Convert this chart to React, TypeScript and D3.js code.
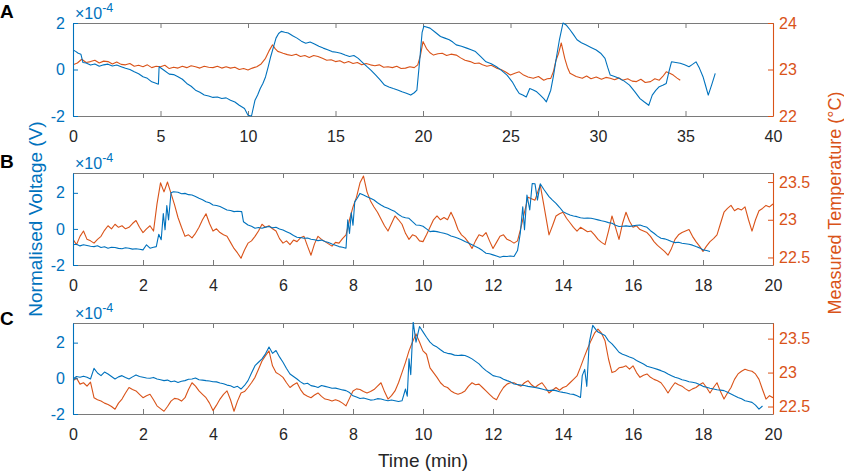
import { useEffect, useRef } from "react";
import * as d3 from "d3";

// MATLAB default colours
const BLUE = "#0072BD";
const ORANGE = "#D95319";
const AXIS_GREY = "#7a7a7a";
const TEXT = "#262626";
const FONT = "'Liberation Sans', Arial, Helvetica, sans-serif";

// ── tick labels ────────────────────────────────────────────────────────────
const X_TICKS_A = [0, 5, 10, 15, 20, 25, 30, 35, 40];
const X_TICKS_BC = [0, 2, 4, 6, 8, 10, 12, 14, 16, 18, 20];
const VOLT_TICKS = [-2, 0, 2];
const TEMP_TICKS_A = [22, 23, 24];
const TEMP_TICKS_BC = [22.5, 23, 23.5];

// ── panel A: [time (min), value] ───────────────────────────────────────────
// voltage in units of 1e-4 V
const A_VOLT: [number, number][] = [
  [0,0.84],[0.15,0.78],[0.3,0.7],[0.45,0.66],[0.57,0.3],[0.75,0.28],[1,0.19],[1.25,0.24],[1.5,0.14],[1.75,0.2],
  [2,0.23],[2.25,0.15],[2.5,0.19],[2.75,0.12],[3,0.05],[3.25,0.0],[3.5,-0.1],[3.75,-0.18],[4,-0.31],[4.25,-0.38],
  [4.5,-0.53],[4.7,-0.58],[4.88,-0.63],[4.92,0.12],[5.2,-0.03],[5.5,-0.2],[5.75,-0.22],[6,-0.31],[6.25,-0.42],[6.5,-0.6],
  [6.75,-0.72],[7,-0.89],[7.25,-0.98],[7.5,-1.1],[7.75,-1.14],[8,-1.2],[8.25,-1.18],[8.5,-1.25],[8.75,-1.22],[9,-1.32],
  [9.25,-1.4],[9.5,-1.54],[9.8,-1.68],[10,-1.97],[10.2,-2.0],[10.4,-1.32],[10.55,-1.1],[10.7,-0.82],[10.85,-0.6],[11,-0.32],
  [11.15,0.1],[11.3,0.56],[11.45,0.95],[11.6,1.35],[11.75,1.55],[11.9,1.64],[12.1,1.6],[12.3,1.57],[12.55,1.45],[12.8,1.35],
  [13.05,1.22],[13.3,1.13],[13.55,1.18],[13.8,1.1],[14.05,1.0],[14.3,0.92],[14.55,0.85],[14.8,0.77],[15.05,0.74],[15.3,0.7],
  [15.55,0.62],[15.8,0.56],[16.05,0.6],[16.3,0.48],[16.55,0.3],[16.8,0.12],[17.05,-0.05],[17.3,-0.24],[17.55,-0.45],[17.8,-0.67],
  [18.05,-0.75],[18.3,-0.82],[18.55,-0.88],[18.8,-0.96],[19.05,-1.02],[19.3,-1.1],[19.5,-1.0],[19.65,-0.89],[19.8,0.3],[19.95,1.6],
  [20.05,1.86],[20.4,1.78],[20.7,1.6],[21,1.42],[21.25,1.35],[21.5,1.28],[21.7,1.18],[21.9,1.06],[22.2,1.0],[22.5,0.92],
  [22.75,0.85],[23,0.77],[23.3,0.55],[23.6,0.33],[23.9,0.25],[24.2,0.12],[24.5,-0.05],[24.8,-0.24],[25.1,-0.53],[25.3,-0.8],
  [25.5,-1.03],[25.7,-1.1],[25.9,-1.18],[26.1,-0.82],[26.3,-0.88],[26.5,-0.96],[26.7,-1.1],[26.9,-1.25],[27.05,-1.39],[27.3,-0.89],
  [27.45,-0.3],[27.6,0.41],[27.8,1.3],[28,2.0],[28.2,1.9],[28.4,1.71],[28.6,1.5],[28.8,1.28],[29.05,1.15],[29.3,1.06],
  [29.6,0.95],[29.9,0.84],[30.15,0.7],[30.4,0.48],[30.55,0.1],[30.7,-0.24],[30.95,-0.3],[31.2,-0.38],[31.5,-0.5],[31.8,-0.67],
  [32.1,-0.95],[32.4,-1.25],[32.65,-1.4],[32.9,-1.54],[33.1,-1.1],[33.3,-0.9],[33.5,-0.74],[33.7,-0.68],[33.9,-0.6],[34.05,-0.1],
  [34.2,0.33],[34.45,0.3],[34.7,0.27],[34.95,0.2],[35.2,0.12],[35.4,0.22],[35.6,0.33],[35.8,0.05],[36,-0.31],[36.15,-0.7],
  [36.3,-1.1],[36.5,-0.65],[36.7,-0.17],
];
// temperature in °C
const A_TEMP: [number, number][] = [
  [0,23.1],[0.25,23.14],[0.5,23.22],[0.75,23.15],[1,23.17],[1.25,23.2],[1.5,23.14],[1.75,23.18],[2,23.17],[2.25,23.12],
  [2.5,23.16],[2.75,23.11],[3,23.1],[3.25,23.13],[3.5,23.07],[3.75,23.09],[4,23.06],[4.25,23.1],[4.5,23.04],[4.75,23.07],
  [5,23.06],[5.25,23.09],[5.5,23.02],[5.75,23.05],[6,23.03],[6.25,23.07],[6.5,23.04],[6.75,23.08],[7,23.06],[7.25,23.03],
  [7.5,23.07],[7.75,23.05],[8,23.04],[8.25,23.07],[8.5,23.03],[8.75,23.06],[9,23.03],[9.25,23.05],[9.5,23.0],[9.75,23.02],
  [10,22.99],[10.25,23.03],[10.5,23.06],[10.75,23.12],[11,23.24],[11.2,23.4],[11.4,23.53],[11.55,23.45],[11.7,23.39],[11.85,23.37],
  [12,23.35],[12.25,23.32],[12.5,23.3],[12.75,23.33],[13,23.28],[13.25,23.3],[13.5,23.26],[13.75,23.3],[14,23.28],[14.25,23.24],
  [14.5,23.2],[14.75,23.21],[15,23.17],[15.25,23.19],[15.5,23.14],[15.75,23.17],[16,23.13],[16.25,23.15],[16.5,23.1],[16.75,23.13],
  [17,23.1],[17.25,23.08],[17.5,23.1],[17.75,23.05],[18,23.06],[18.25,23.04],[18.5,23.07],[18.75,23.02],[19,23.03],[19.25,23.06],
  [19.5,23.04],[19.7,23.1],[19.85,23.3],[20,23.6],[20.2,23.45],[20.4,23.36],[20.6,23.31],[20.85,23.34],[21.1,23.35],[21.35,23.3],
  [21.6,23.33],[21.9,23.31],[22.15,23.25],[22.4,23.2],[22.7,23.17],[22.95,23.13],[23.2,23.14],[23.4,23.1],[23.65,23.07],[23.9,23.09],
  [24.2,23.03],[24.45,23.0],[24.7,22.95],[25,22.88],[25.25,22.92],[25.5,22.95],[25.75,22.88],[26,22.84],[26.3,22.81],[26.6,22.85],
  [26.9,22.77],[27.1,22.8],[27.3,22.81],[27.45,22.95],[27.6,23.2],[27.75,23.35],[27.9,23.57],[28.1,23.24],[28.25,23.05],[28.4,22.92],
  [28.75,22.85],[29.1,22.81],[29.35,22.86],[29.6,22.8],[29.9,22.84],[30.2,22.79],[30.45,22.83],[30.7,22.81],[30.95,22.78],[31.2,22.82],
  [31.4,22.77],[31.7,22.8],[31.95,22.75],[32.2,22.74],[32.45,22.79],[32.7,22.72],[33,22.74],[33.25,22.8],[33.5,22.77],[33.7,22.85],
  [33.9,22.95],[34.1,22.92],[34.3,22.88],[34.5,22.82],[34.7,22.77],
];

// ── panel B ────────────────────────────────────────────────────────────────
const B_VOLT: [number, number][] = [
  [0,-0.88],[0.1,-0.85],[0.2,-0.94],[0.3,-0.88],[0.4,-0.92],[0.5,-0.96],[0.6,-0.98],[0.7,-0.93],[0.8,-1.03],[0.9,-0.99],
  [1,-1.07],[1.1,-1.02],[1.2,-1.03],[1.3,-1.08],[1.4,-1.1],[1.5,-1.04],[1.6,-1.07],[1.7,-1.12],[1.8,-1.1],[1.9,-1.13],
  [2,-1.16],[2.1,-0.88],[2.2,-1.07],[2.3,-1.02],[2.38,-0.98],[2.45,-0.3],[2.52,-0.6],[2.58,0.85],[2.63,-0.05],[2.68,1.3],
  [2.73,0.5],[2.8,2.0],[2.87,2.06],[3,2.03],[3.1,1.95],[3.2,1.97],[3.3,1.9],[3.4,1.88],[3.5,1.8],[3.6,1.7],
  [3.7,1.62],[3.8,1.51],[3.9,1.45],[4,1.33],[4.1,1.3],[4.2,1.24],[4.3,1.15],[4.4,1.05],[4.5,1.02],[4.6,0.96],
  [4.7,0.98],[4.82,0.96],[4.87,0.4],[5,0.22],[5.1,0.15],[5.2,0.04],[5.3,0.08],[5.4,0.04],[5.5,0.1],[5.6,0.13],
  [5.7,0.06],[5.8,0.09],[5.9,0.0],[6,-0.06],[6.1,-0.15],[6.2,-0.24],[6.3,-0.36],[6.4,-0.46],[6.5,-0.48],[6.6,-0.52],
  [6.7,-0.5],[6.8,-0.57],[6.9,-0.6],[7,-0.65],[7.1,-0.62],[7.2,-0.7],[7.3,-0.75],[7.4,-0.83],[7.5,-0.9],[7.6,-0.98],
  [7.7,-1.02],[7.8,-1.07],[7.85,0.5],[7.9,-0.25],[7.95,0.9],[8.0,0.2],[8.05,1.5],[8.12,1.7],[8.2,1.97],[8.3,1.88],
  [8.4,1.79],[8.5,1.7],[8.6,1.6],[8.7,1.45],[8.8,1.33],[8.9,1.22],[9,1.14],[9.1,1.05],[9.2,0.96],[9.3,0.8],
  [9.4,0.68],[9.5,0.62],[9.6,0.59],[9.7,0.4],[9.8,0.22],[9.9,0.2],[10,0.15],[10.1,0.0],[10.2,-0.15],[10.3,-0.12],
  [10.4,-0.15],[10.5,-0.2],[10.6,-0.24],[10.7,-0.3],[10.8,-0.39],[10.9,-0.45],[11,-0.52],[11.1,-0.6],[11.2,-0.7],[11.3,-0.78],
  [11.4,-0.88],[11.5,-0.98],[11.6,-1.07],[11.7,-1.2],[11.8,-1.35],[11.9,-1.38],[12,-1.44],[12.1,-1.5],[12.2,-1.57],[12.3,-1.52],
  [12.4,-1.53],[12.5,-1.5],[12.6,-1.53],[12.7,-1.2],[12.78,-0.24],[12.85,1.23],[12.9,-0.05],[12.97,1.88],[13.05,1.05],[13.12,2.52],
  [13.2,2.5],[13.27,1.6],[13.35,2.5],[13.45,2.2],[13.6,1.79],[13.7,1.6],[13.8,1.42],[13.9,1.2],[14,0.96],[14.1,0.85],
  [14.2,0.77],[14.3,0.72],[14.4,0.68],[14.5,0.62],[14.6,0.59],[14.7,0.6],[14.8,0.59],[14.9,0.55],[15,0.5],[15.1,0.45],
  [15.2,0.41],[15.3,0.35],[15.4,0.31],[15.5,0.2],[15.6,0.13],[15.7,0.15],[15.8,0.17],[15.9,0.14],[16,0.17],[16.1,0.2],
  [16.2,0.22],[16.3,0.15],[16.4,0.09],[16.5,-0.1],[16.6,-0.24],[16.7,-0.4],[16.8,-0.52],[16.9,-0.55],[17,-0.61],[17.1,-0.7],
  [17.2,-0.76],[17.3,-0.74],[17.4,-0.79],[17.5,-0.82],[17.6,-0.85],[17.7,-0.9],[17.8,-0.98],[17.9,-1.05],[18,-1.16],[18.1,-1.2],
  [18.2,-1.25],
];
const B_TEMP: [number, number][] = [
  [0,22.74],[0.1,22.67],[0.2,22.78],[0.3,22.85],[0.4,22.74],[0.5,22.72],[0.6,22.69],[0.7,22.74],[0.8,22.78],[0.9,22.86],
  [1,22.92],[1.1,22.88],[1.2,22.94],[1.3,22.9],[1.4,22.92],[1.5,22.88],[1.6,22.9],[1.7,22.95],[1.8,22.99],[1.9,22.9],
  [2,22.83],[2.1,22.88],[2.2,22.92],[2.3,22.85],[2.4,23.21],[2.5,23.49],[2.6,23.37],[2.7,23.5],[2.8,23.35],[2.9,23.2],
  [3,23.03],[3.1,22.9],[3.2,22.78],[3.3,22.8],[3.4,22.76],[3.5,22.82],[3.6,22.9],[3.7,23.0],[3.8,23.08],[3.9,22.95],
  [4,22.85],[4.1,22.88],[4.2,22.83],[4.3,22.8],[4.4,22.78],[4.5,22.7],[4.6,22.62],[4.7,22.56],[4.8,22.49],[4.9,22.6],
  [5,22.69],[5.1,22.72],[5.2,22.78],[5.3,22.85],[5.4,22.94],[5.5,22.9],[5.6,22.92],[5.7,22.88],[5.8,22.85],[5.9,22.75],
  [6,22.69],[6.1,22.72],[6.2,22.67],[6.3,22.73],[6.4,22.71],[6.5,22.76],[6.6,22.78],[6.7,22.65],[6.8,22.53],[6.9,22.68],
  [7,22.78],[7.1,22.74],[7.2,22.71],[7.3,22.68],[7.4,22.65],[7.5,22.7],[7.6,22.69],[7.7,22.75],[7.8,22.8],[7.9,23.0],
  [8,23.17],[8.1,23.3],[8.2,23.49],[8.3,23.58],[8.4,23.37],[8.5,23.25],[8.6,23.17],[8.7,23.1],[8.8,23.01],[8.9,22.92],
  [9,22.85],[9.1,22.95],[9.2,23.05],[9.3,23.0],[9.4,22.94],[9.5,22.82],[9.6,22.74],[9.7,22.8],[9.8,22.78],[9.9,22.72],
  [10,22.71],[10.1,22.8],[10.2,22.9],[10.3,23.0],[10.4,23.05],[10.5,23.0],[10.6,23.03],[10.7,23.0],[10.8,23.1],[10.9,23.0],
  [11,22.87],[11.1,22.8],[11.2,22.76],[11.3,22.7],[11.4,22.62],[11.5,22.72],[11.6,22.8],[11.7,22.78],[11.8,22.83],[11.9,22.72],
  [12,22.62],[12.1,22.7],[12.2,22.78],[12.3,22.8],[12.4,22.74],[12.5,22.72],[12.6,22.69],[12.7,22.72],[12.8,22.9],[12.9,23.1],
  [13,23.3],[13.1,23.28],[13.2,23.26],[13.3,23.4],[13.35,23.46],[13.45,23.2],[13.6,22.8],[13.7,22.92],[13.8,23.05],[13.9,23.08],
  [14,23.1],[14.1,23.02],[14.2,22.96],[14.3,22.9],[14.4,22.85],[14.5,22.9],[14.6,22.87],[14.7,22.84],[14.8,22.85],[14.9,22.8],
  [15,22.74],[15.1,22.7],[15.2,22.67],[15.3,22.85],[15.4,23.05],[15.5,22.9],[15.6,22.74],[15.7,22.95],[15.8,23.1],[15.9,22.98],
  [16,22.9],[16.1,22.92],[16.2,22.87],[16.3,22.85],[16.4,22.83],[16.5,22.78],[16.6,22.71],[16.7,22.66],[16.8,22.62],[16.9,22.58],
  [17,22.53],[17.1,22.62],[17.2,22.74],[17.3,22.8],[17.4,22.83],[17.5,22.85],[17.6,22.87],[17.7,22.78],[17.8,22.71],[17.9,22.65],
  [18,22.58],[18.1,22.65],[18.2,22.71],[18.3,22.75],[18.4,22.8],[18.5,22.95],[18.6,23.1],[18.7,23.15],[18.8,23.19],[18.9,23.12],
  [19,23.15],[19.1,23.13],[19.2,23.17],[19.3,23.0],[19.4,22.85],[19.5,23.0],[19.6,23.12],[19.7,23.15],[19.8,23.19],[19.9,23.17],
  [20,23.21],
];

// ── panel C ────────────────────────────────────────────────────────────────
const C_VOLT: [number, number][] = [
  [0,-0.04],[0.1,0.1],[0.2,0.06],[0.3,0.12],[0.4,0.06],[0.5,-0.04],[0.6,0.56],[0.7,0.3],[0.8,0.15],[0.9,0.35],
  [1,0.24],[1.1,0.1],[1.2,-0.04],[1.3,0.08],[1.4,0.15],[1.5,0.05],[1.6,-0.04],[1.7,0.08],[1.8,0.19],[1.9,0.1],
  [2,0.06],[2.1,0.02],[2.2,0.0],[2.3,0.05],[2.4,-0.04],[2.5,-0.08],[2.6,-0.13],[2.7,-0.1],[2.8,-0.19],[2.9,-0.15],
  [3,-0.23],[3.1,-0.16],[3.2,-0.13],[3.3,-0.05],[3.4,-0.04],[3.5,0.02],[3.6,-0.08],[3.7,-0.1],[3.8,-0.13],[3.9,-0.15],
  [4,-0.19],[4.1,-0.2],[4.2,-0.26],[4.3,-0.3],[4.4,-0.38],[4.5,-0.42],[4.6,-0.51],[4.7,-0.45],[4.8,-0.6],[4.9,-0.4],
  [5,-0.13],[5.1,0.3],[5.2,0.71],[5.3,0.9],[5.4,1.09],[5.5,1.37],[5.6,1.75],[5.7,1.4],[5.8,1.56],[5.9,1.2],
  [6,0.9],[6.1,0.55],[6.2,0.24],[6.3,0.1],[6.4,-0.04],[6.5,-0.2],[6.6,-0.32],[6.7,-0.28],[6.8,-0.41],[6.9,-0.45],
  [7,-0.51],[7.1,-0.4],[7.2,-0.45],[7.3,-0.5],[7.4,-0.56],[7.5,-0.55],[7.6,-0.6],[7.7,-0.65],[7.8,-0.69],[7.9,-0.8],
  [8,-0.98],[8.1,-1.05],[8.2,-1.13],[8.3,-1.1],[8.4,-1.16],[8.5,-1.22],[8.6,-1.2],[8.7,-1.14],[8.8,-1.16],[8.9,-1.22],
  [9,-1.26],[9.1,-1.22],[9.2,-1.26],[9.3,-1.3],[9.4,-1.26],[9.5,-0.6],[9.55,-1.0],[9.6,1.09],[9.65,0.2],[9.72,3.15],
  [9.8,2.03],[9.9,2.9],[10,2.6],[10.1,2.3],[10.2,2.03],[10.3,1.85],[10.4,1.75],[10.5,1.6],[10.6,1.46],[10.7,1.4],
  [10.8,1.37],[10.9,1.3],[11,1.28],[11.1,1.3],[11.2,1.28],[11.3,1.2],[11.4,1.09],[11.5,0.95],[11.6,0.81],[11.7,0.6],
  [11.8,0.43],[11.9,0.3],[12,0.15],[12.1,0.1],[12.2,0.06],[12.3,-0.05],[12.4,-0.13],[12.5,-0.2],[12.6,-0.32],[12.7,-0.35],
  [12.8,-0.38],[12.9,-0.4],[13,-0.45],[13.1,-0.48],[13.2,-0.51],[13.3,-0.55],[13.4,-0.6],[13.5,-0.65],[13.6,-0.69],[13.7,-0.66],
  [13.8,-0.69],[13.9,-0.75],[14,-0.79],[14.1,-0.82],[14.2,-0.88],[14.3,-0.9],[14.4,-0.98],[14.5,-1.07],[14.55,0.15],[14.62,0.5],
  [14.68,-0.45],[14.75,2.0],[14.85,2.97],[14.95,2.7],[15,2.59],[15.1,2.5],[15.2,2.4],[15.3,2.1],[15.4,1.93],[15.5,1.7],
  [15.6,1.46],[15.7,1.35],[15.8,1.28],[15.9,1.2],[16,1.13],[16.1,1.0],[16.2,0.9],[16.3,0.8],[16.4,0.68],[16.5,0.62],
  [16.6,0.56],[16.7,0.5],[16.8,0.43],[16.9,0.35],[17,0.24],[17.1,0.15],[17.2,0.06],[17.3,0.0],[17.4,-0.08],[17.5,-0.12],
  [17.6,-0.19],[17.7,-0.22],[17.8,-0.26],[17.9,-0.35],[18,-0.45],[18.1,-0.5],[18.2,-0.56],[18.3,-0.6],[18.4,-0.64],[18.5,-0.66],
  [18.6,-0.69],[18.7,-0.78],[18.8,-0.88],[18.9,-0.98],[19,-1.07],[19.1,-1.15],[19.2,-1.26],[19.3,-1.3],[19.4,-1.35],[19.5,-1.5],
  [19.6,-1.73],[19.7,-1.55],
];
const C_TEMP: [number, number][] = [
  [0,22.88],[0.1,22.92],[0.2,22.83],[0.3,22.85],[0.4,22.8],[0.5,22.86],[0.6,22.63],[0.7,22.6],[0.8,22.58],[0.9,22.55],
  [1,22.53],[1.1,22.5],[1.2,22.46],[1.3,22.55],[1.4,22.61],[1.5,22.7],[1.6,22.78],[1.7,22.75],[1.8,22.73],[1.9,22.68],
  [2,22.63],[2.1,22.66],[2.2,22.68],[2.3,22.6],[2.4,22.51],[2.5,22.47],[2.6,22.43],[2.7,22.5],[2.8,22.58],[2.9,22.62],
  [3,22.61],[3.1,22.58],[3.2,22.63],[3.3,22.75],[3.4,22.85],[3.5,22.8],[3.6,22.73],[3.7,22.68],[3.8,22.63],[3.9,22.55],
  [4,22.44],[4.1,22.52],[4.2,22.61],[4.3,22.68],[4.4,22.73],[4.5,22.6],[4.6,22.43],[4.7,22.58],[4.8,22.7],[4.9,22.72],
  [5,22.78],[5.1,22.85],[5.2,22.93],[5.3,23.05],[5.4,23.17],[5.5,23.25],[5.6,23.32],[5.7,23.1],[5.8,23.0],[5.9,22.97],
  [6,22.93],[6.1,22.85],[6.2,22.78],[6.3,22.82],[6.4,22.85],[6.5,22.75],[6.6,22.68],[6.7,22.65],[6.8,22.63],[6.9,22.67],
  [7,22.7],[7.1,22.65],[7.2,22.61],[7.3,22.6],[7.4,22.58],[7.5,22.6],[7.6,22.58],[7.7,22.55],[7.8,22.51],[7.9,22.62],
  [8,22.73],[8.1,22.76],[8.2,22.75],[8.3,22.72],[8.4,22.7],[8.5,22.72],[8.6,22.75],[8.7,22.8],[8.8,22.85],[8.9,22.72],
  [9,22.61],[9.1,22.66],[9.2,22.73],[9.3,22.85],[9.4,23.0],[9.5,23.15],[9.6,23.32],[9.7,23.45],[9.8,23.57],[9.9,23.45],
  [10,23.32],[10.1,23.27],[10.2,23.07],[10.3,23.0],[10.4,22.93],[10.5,22.85],[10.6,22.8],[10.7,22.78],[10.8,22.73],[10.9,22.7],
  [11,22.68],[11.1,22.7],[11.2,22.73],[11.3,22.8],[11.4,22.85],[11.5,22.82],[11.6,22.83],[11.7,22.78],[11.8,22.73],[11.9,22.68],
  [12,22.63],[12.1,22.6],[12.2,22.7],[12.3,22.78],[12.4,22.83],[12.5,22.85],[12.6,22.85],[12.7,22.82],[12.8,22.8],[12.9,22.85],
  [13,22.88],[13.1,22.82],[13.2,22.78],[13.3,22.82],[13.4,22.85],[13.5,22.78],[13.6,22.7],[13.7,22.74],[13.8,22.78],[13.9,22.74],
  [14,22.78],[14.1,22.8],[14.2,22.85],[14.3,22.9],[14.4,22.95],[14.5,23.08],[14.6,23.22],[14.7,23.35],[14.8,23.47],[14.9,23.58],
  [15,23.64],[15.1,23.58],[15.2,23.47],[15.3,23.2],[15.4,23.0],[15.5,23.02],[15.6,23.07],[15.7,23.08],[15.8,23.1],[15.9,23.05],
  [16,23.1],[16.1,23.0],[16.2,22.93],[16.3,22.96],[16.4,22.98],[16.5,22.93],[16.6,22.9],[16.7,22.88],[16.8,22.85],[16.9,22.78],
  [17,22.7],[17.1,22.78],[17.2,22.85],[17.3,22.82],[17.4,22.8],[17.5,22.76],[17.6,22.73],[17.7,22.76],[17.8,22.78],[17.9,22.82],
  [18,22.85],[18.1,22.78],[18.2,22.7],[18.3,22.78],[18.4,22.85],[18.5,22.72],[18.6,22.61],[18.7,22.7],[18.8,22.78],[18.9,22.9],
  [19,22.98],[19.1,23.02],[19.2,23.05],[19.3,23.03],[19.4,23.02],[19.5,22.98],[19.6,22.9],[19.7,22.75],[19.8,22.61],[19.9,22.66],
  [20,22.63],
];

const WIDTH = 844;
const HEIGHT = 471;
const PLOT_L = 73;
const PLOT_R = 773;

type Panel = {
  label: string;
  top: number;
  bottom: number;
  xMax: number;
  xTicks: number[];
  voltDomain: [number, number];
  tempDomain: [number, number];
  tempTicks: number[];
  volt: [number, number][];
  temp: [number, number][];
};

const PANELS: Panel[] = [
  { label: "A", top: 23, bottom: 116, xMax: 40, xTicks: X_TICKS_A, voltDomain: [-2, 2], tempDomain: [22, 24], tempTicks: TEMP_TICKS_A, volt: A_VOLT, temp: A_TEMP },
  { label: "B", top: 173, bottom: 265, xMax: 20, xTicks: X_TICKS_BC, voltDomain: [-2, 3.1], tempDomain: [22.4, 23.62], tempTicks: TEMP_TICKS_BC, volt: B_VOLT, temp: B_TEMP },
  { label: "C", top: 323, bottom: 414, xMax: 20, xTicks: X_TICKS_BC, voltDomain: [-2, 3.1], tempDomain: [22.39, 23.73], tempTicks: TEMP_TICKS_BC, volt: C_VOLT, temp: C_TEMP },
];

// plain number labels, ASCII minus like MATLAB
const fmt = (d: d3.NumberValue) => String(+d);

export default function App() {
  const svgRef = useRef<SVGSVGElement>(null);

  useEffect(() => {
    const svgEl = svgRef.current;
    if (!svgEl) return;
    const svg = d3.select(svgEl);
    svg.selectAll("*").remove();

    svg.append("rect").attr("width", WIDTH).attr("height", HEIGHT).attr("fill", "#fff");

    PANELS.forEach((p, i) => {
      const x = d3.scaleLinear().domain([0, p.xMax]).range([PLOT_L, PLOT_R]);
      const yV = d3.scaleLinear().domain(p.voltDomain).range([p.bottom, p.top]);
      const yT = d3.scaleLinear().domain(p.tempDomain).range([p.bottom, p.top]);

      const g = svg.append("g").attr("font-family", FONT);

      // clip to plot box
      const clipId = `clip-${i}`;
      g.append("clipPath").attr("id", clipId)
        .append("rect")
        .attr("x", PLOT_L).attr("y", p.top - 1)
        .attr("width", PLOT_R - PLOT_L).attr("height", p.bottom - p.top + 2);

      // ── x axes (bottom with labels, top plain) ──
      const xBottom = g.append("g").attr("transform", `translate(0,${p.bottom})`)
        .call(d3.axisBottom(x).tickValues(p.xTicks).tickSizeInner(-5).tickSizeOuter(0).tickPadding(14.5).tickFormat(fmt));
      const xTop = g.append("g").attr("transform", `translate(0,${p.top})`)
        .call(d3.axisTop(x).tickValues(p.xTicks).tickSizeInner(-5).tickSizeOuter(0).tickFormat(() => ""));
      [xBottom, xTop].forEach((ax) => {
        ax.select(".domain").attr("stroke", AXIS_GREY).attr("stroke-width", 1.1);
        ax.selectAll(".tick line").attr("stroke", AXIS_GREY).attr("stroke-width", 1);
        ax.selectAll("text").attr("fill", TEXT).attr("font-size", 16).attr("font-family", FONT);
      });

      // ── data lines ──
      const lineV = d3.line<[number, number]>().x((d) => x(d[0])).y((d) => yV(d[1]));
      const lineT = d3.line<[number, number]>().x((d) => x(d[0])).y((d) => yT(d[1]));
      const lines = g.append("g").attr("clip-path", `url(#${clipId})`);
      lines.append("path").datum(p.temp).attr("d", lineT)
        .attr("fill", "none").attr("stroke", ORANGE).attr("stroke-width", 1.1).attr("stroke-linejoin", "round");
      lines.append("path").datum(p.volt).attr("d", lineV)
        .attr("fill", "none").attr("stroke", BLUE).attr("stroke-width", 1.1).attr("stroke-linejoin", "round");

      // ── left (voltage) axis ──
      const yLeft = g.append("g").attr("transform", `translate(${PLOT_L},0)`)
        .call(d3.axisLeft(yV).tickValues(VOLT_TICKS).tickSizeInner(-5).tickSizeOuter(0).tickPadding(8).tickFormat(fmt));
      yLeft.select(".domain").attr("stroke", BLUE).attr("stroke-width", 1.1);
      yLeft.selectAll(".tick line").attr("stroke", BLUE);
      yLeft.selectAll("text").attr("fill", BLUE).attr("font-size", 16).attr("font-family", FONT);

      // ── right (temperature) axis ──
      const yRight = g.append("g").attr("transform", `translate(${PLOT_R},0)`)
        .call(d3.axisRight(yT).tickValues(p.tempTicks).tickSizeInner(-5).tickSizeOuter(0).tickPadding(6).tickFormat(fmt));
      yRight.select(".domain").attr("stroke", ORANGE).attr("stroke-width", 1.1);
      yRight.selectAll(".tick line").attr("stroke", ORANGE);
      yRight.selectAll("text").attr("fill", ORANGE).attr("font-size", 16).attr("font-family", FONT);

      // exponent label
      const exp = g.append("text")
        .attr("x", PLOT_L + 2).attr("y", p.top - 4)
        .attr("fill", BLUE).attr("font-size", 16);
      exp.append("tspan").text("×10");
      exp.append("tspan").attr("dy", -7).attr("font-size", 12.5).text("-4");

      // panel letter
      g.append("text")
        .attr("x", 0).attr("y", p.top - 5 + (i === 2 ? 7 : 0))
        .attr("font-size", 19).attr("font-weight", "bold").attr("fill", "#000")
        .text(p.label);
    });

    // ── axis titles ──
    svg.append("text")
      .attr("transform", `translate(42,219) rotate(-90)`)
      .attr("text-anchor", "middle").attr("font-family", FONT).attr("font-size", 19)
      .attr("fill", BLUE).text("Normalised Voltage (V)");

    svg.append("text")
      .attr("transform", `translate(841,203) rotate(-90)`)
      .attr("text-anchor", "middle").attr("font-family", FONT).attr("font-size", 18)
      .attr("fill", ORANGE).text("Measured Temperature (°C)");

    svg.append("text")
      .attr("x", 423).attr("y", 467)
      .attr("text-anchor", "middle").attr("font-family", FONT).attr("font-size", 19)
      .attr("fill", TEXT).text("Time (min)");
  }, []);

  return (
    <svg
      ref={svgRef}
      width={WIDTH}
      height={HEIGHT}
      style={{ position: "absolute", left: 0, top: 0, display: "block" }}
    />
  );
}
